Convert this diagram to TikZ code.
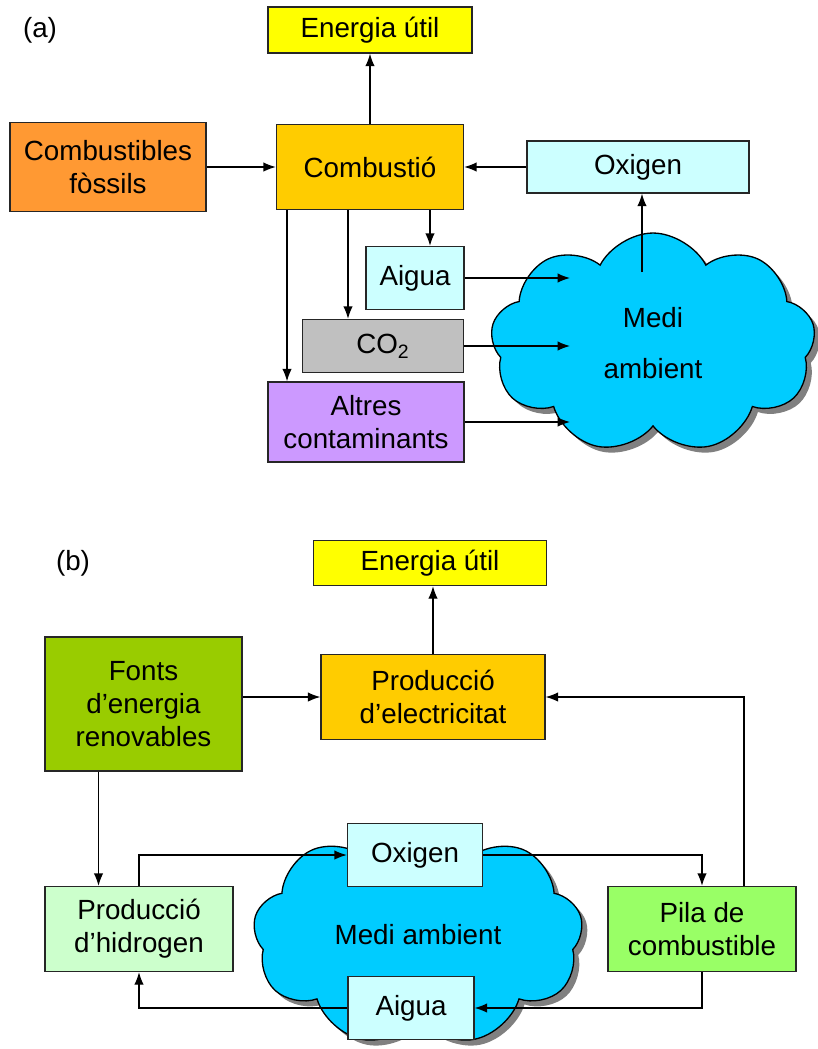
\documentclass[tikz,border=0pt]{standalone}
\usepackage{fontspec}
\setmainfont{Liberation Sans}
\usetikzlibrary{shapes.symbols,shadows,arrows.meta}

\definecolor{groc}{HTML}{FFFF00}
\definecolor{taronja}{HTML}{FF9933}
\definecolor{or}{HTML}{FFCC00}
\definecolor{cian}{HTML}{CCFFFF}
\definecolor{gris}{HTML}{C0C0C0}
\definecolor{lila}{HTML}{CC99FF}
\definecolor{cel}{HTML}{00CCFF}
\definecolor{oliva}{HTML}{99CC00}
\definecolor{menta}{HTML}{CCFFCC}
\definecolor{llima}{HTML}{99FF66}

\tikzset{
	caixa/.style={draw=black!85, line width=0.75pt, align=center, inner sep=0pt},
	fletxa/.style={-{Latex[length=2.5mm,width=1.9mm]}, line width=0.75pt},
	nuvol/.style={cloud, cloud puffs=9, cloud puff arc=125, cloud ignores aspect, draw=black, line width=0.75pt, fill=cel, align=center,
		drop shadow={shadow xshift=1.1mm, shadow yshift=-1.1mm, fill=black!50, opacity=1}}
}

\begin{document}
\begin{tikzpicture}[x=0.02cm, y=-0.02cm, font=\fontsize{15.8}{18.8}\selectfont]
				\useasboundingbox (0,0) rectangle (818,1049);

				\node (lbla) at (40,30) {(a)};
				\node[nuvol, minimum width=6.5cm, minimum height=4.4cm] (nuvola) at (653,343) {Medi\\[10pt]ambient};
				\node[caixa, fill=groc, minimum width=4.08cm, minimum height=0.92cm] (enera) at (370,30) {Energia útil};
				\node[caixa, fill=taronja, minimum width=3.92cm, minimum height=1.78cm] (fossils) at (108,167) {Combustibles\\fòssils};
				\node[caixa, fill=or, minimum width=3.74cm, minimum height=1.70cm] (comb) at (370,167) {Combustió};
				\node[caixa, fill=cian, minimum width=4.44cm, minimum height=1.04cm] (oxia) at (638,167) {Oxigen};
				\node[caixa, fill=cian, minimum width=1.96cm, minimum height=1.26cm] (aiga) at (415,278) {Aigua};
				\node[caixa, fill=gris, minimum width=3.22cm, minimum height=1.06cm] (co2) at (383,346) {CO\textsubscript{2}};
				\node[caixa, fill=lila, minimum width=3.92cm, minimum height=1.60cm] (altres) at (366,422) {Altres\\contaminants};

				\draw[fletxa] (comb.north) -- (enera.south);
				\draw[fletxa] (fossils.east) -- (comb.west);
				\draw[fletxa] (oxia.west) -- (comb.east);
				\coordinate (surt) at (642,272);
				\draw[fletxa] (surt) -- (surt |- oxia.south);
				\foreach \d/\dest in {1.2/aiga, -0.44/co2, -1.66/altres}{
					\draw[fletxa] ([xshift=\d cm]comb.south) -- ([xshift=\d cm]comb.south |- \dest.north);
				}
				\foreach \n in {aiga, co2, altres}{
					\draw[fletxa] (\n.east) -- ([xshift=-1.66cm]nuvola.center |- \n.east);
				}

				\node (lblb) at (73,563) {(b)};
				\node[nuvol, minimum width=6.6cm, minimum height=4.44cm] (nuvolb) at (418,935) {Medi ambient};
				\node[caixa, fill=groc, minimum width=4.66cm, minimum height=0.90cm] (enerb) at (430,563) {Energia útil};
				\node[caixa, fill=oliva, minimum width=3.94cm, minimum height=2.68cm] (fonts) at (143.5,704) {Fonts\\d’energia\\renovables};
				\node[caixa, fill=or, minimum width=4.48cm, minimum height=1.70cm] (elec) at (433,697) {Producció\\d’electricitat};
				\node[caixa, fill=menta, minimum width=3.76cm, minimum height=1.70cm] (hidro) at (139,929) {Producció\\d’hidrogen};
				\node[caixa, fill=llima, minimum width=3.76cm, minimum height=1.70cm] (pila) at (702,929) {Pila de\\combustible};

				\draw[fletxa] (elec.north) -- (elec.north |- enerb.south);
				\draw[fletxa] (fonts.east |- elec.west) -- (elec.west);
				\draw[fletxa] ([xshift=-0.9cm]fonts.south) -- ([xshift=-0.9cm]fonts.south |- hidro.north);
				\draw[fletxa] ([xshift=0.84cm]pila.north) |- (elec.east);

				\node[caixa, fill=cian, minimum width=2.70cm, minimum height=1.26cm] (oxib) at (415,855) {Oxigen};
				\node[caixa, fill=cian, minimum width=2.52cm, minimum height=1.26cm] (aigb) at (411,1008) {Aigua};
				\draw[fletxa] (hidro.north) |- (oxib.west);
				\draw[fletxa] (oxib.east) -| (pila.north);
				\draw[fletxa] (pila.south) |- (aigb.east);
				\draw[fletxa] (aigb.west) -| (hidro.south);
			\end{tikzpicture}
\end{document}
